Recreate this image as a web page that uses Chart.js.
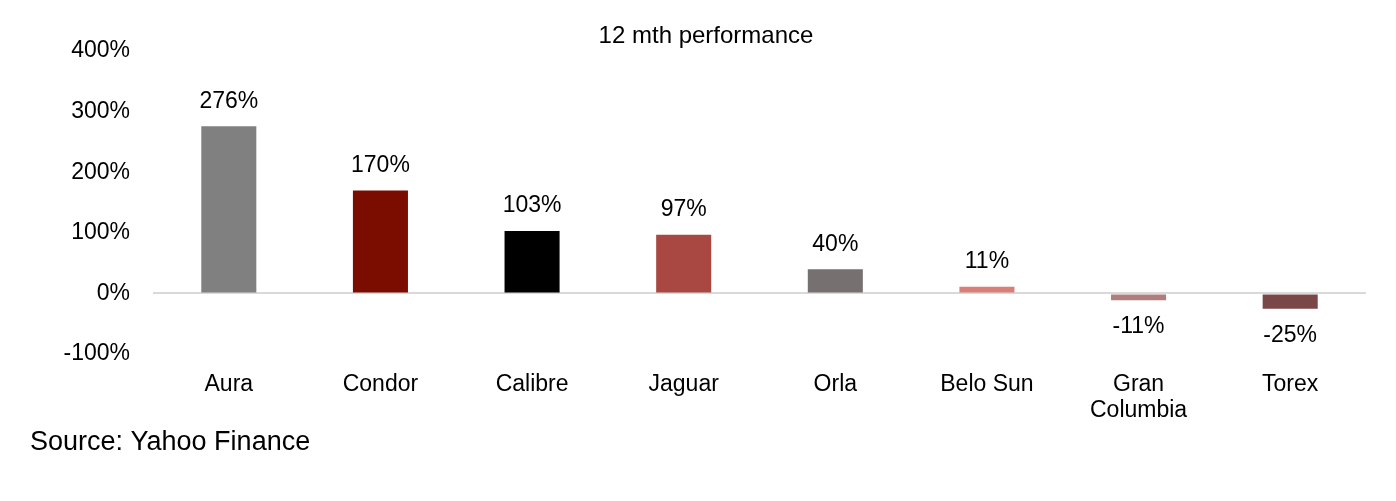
<!DOCTYPE html>
<html>
<head>
<meta charset="utf-8">
<script src="https://cdn.jsdelivr.net/npm/chart.js@4"></script>
<style>
  html, body { margin: 0; padding: 0; background: #fff; }
  #wrap { width: 1396px; height: 501px; position: relative; }
</style>
</head>
<body>
<div id="wrap"><canvas id="perfChart" width="1396" height="501"></canvas></div>
<script>
// categories and values
const companies = ['Aura', 'Condor', 'Calibre', 'Jaguar', 'Orla', 'Belo Sun', ['Gran', 'Columbia'], 'Torex'];
const perf12m = [276, 170, 103, 97, 40, 11, -11, -25];
const barColors = ['#808080', '#7a0c00', '#000000', '#a94743', '#767070', '#da7e7a', '#b07c7c', '#7b4646'];
const titleText = '12 mth performance';
const sourceText = 'Source: Yahoo Finance';

const FONT = "'Liberation Sans', Arial, sans-serif";

// labels above/below each bar (no datalabels plugin available)
const valueLabels = {
    id: 'valueLabels',
    afterDatasetsDraw(chart) {
        const ctx = chart.ctx;
        const meta = chart.getDatasetMeta(0);
        ctx.save();
        ctx.font = '23px ' + FONT;
        ctx.fillStyle = '#000';
        ctx.textAlign = 'center';
        ctx.textBaseline = 'middle';
        meta.data.forEach((bar, i) => {
            const v = perf12m[i];
            const y = v >= 0 ? bar.y - 25 : bar.y + 27;
            ctx.fillText(v + '%', bar.x, y);
        });
        ctx.restore();
    }
};

// title + source line
const extraText = {
    id: 'extraText',
    afterDraw(chart) {
        const ctx = chart.ctx;
        ctx.save();
        ctx.fillStyle = '#000';
        ctx.textBaseline = 'middle';
        ctx.font = '24px ' + FONT;
        ctx.textAlign = 'center';
        ctx.fillText(titleText, 706, 36);
        ctx.font = '27px ' + FONT;
        ctx.textAlign = 'left';
        ctx.fillText(sourceText, 30, 443);
        ctx.restore();
    }
};

new Chart(document.getElementById('perfChart'), {
    type: 'bar',
    data: {
        labels: companies,
        datasets: [{
            data: perf12m,
            backgroundColor: barColors,
            borderWidth: 0,
            barPercentage: 0.363,
            categoryPercentage: 1.0
        }]
    },
    options: {
        responsive: false,
        animation: false,
        layout: { padding: { top: 51, right: 30, bottom: 60, left: 0 } },
        plugins: {
            legend: { display: false },
            tooltip: { enabled: false }
        },
        scales: {
            x: {
                grid: { display: false, drawTicks: false },
                border: { display: false },
                ticks: {
                    color: '#000',
                    padding: 17,
                    maxRotation: 0,
                    autoSkip: false,
                    font: { family: FONT, size: 23, lineHeight: 1.15 }
                }
            },
            y: {
                min: -100,
                max: 400,
                afterFit(scale) { scale.width = 153; },
                grid: {
                    drawTicks: false,
                    lineWidth: 2,
                    color: c => c.tick && c.tick.value === 0 ? '#d9d9d9' : 'rgba(0,0,0,0)'
                },
                border: { display: false },
                ticks: {
                    stepSize: 100,
                    color: '#000',
                    padding: 23,
                    font: { family: FONT, size: 23 },
                    callback: v => v + '%'
                }
            }
        }
    },
    plugins: [valueLabels, extraText]
});
</script>
</body>
</html>
